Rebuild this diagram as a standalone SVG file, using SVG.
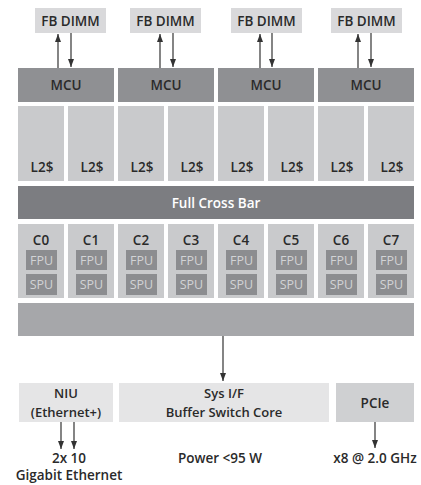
<svg xmlns="http://www.w3.org/2000/svg" width="421" height="485" viewBox="0 0 421 485">
<defs>
<marker id="ah" viewBox="0 0 8 6" refX="8" refY="3" markerWidth="8" markerHeight="6" orient="auto" markerUnits="userSpaceOnUse">
<path d="M0,0 L8,3 L0,6 z" fill="#333"/>
</marker>
<style>
text{font-family:"Open Sans","Noto Sans","DejaVu Sans",sans-serif;text-anchor:middle;}
.b{font-weight:600;fill:#2a2a2a;font-size:13.5px;}
.s{font-size:13px;}
.dimm{fill:#d9d9db;}
.mcu{fill:#8f9093;}
.l2{fill:#c9cacc;}
.core{fill:#c9cacc;}
.unit{fill:#8c8d90;}
.ut{font-size:12.5px;fill:#d2d3d5;font-weight:400;}
.xbar{fill:#7c7d81;}
.bus{fill:#a6a7aa;}
.light{fill:#e5e5e6;}
.pcie{fill:#cfd0d2;}
.w{fill:#fff;font-weight:600;font-size:13.5px;}
.ln{stroke:#333;stroke-width:1.2;fill:none;}
</style>
</defs>
<rect width="421" height="485" fill="#fff"/>
<g id="dimm0"><rect class="dimm" x="35" y="8" width="71" height="25"/><text class="b" x="70.5" y="26">FB DIMM</text></g>
<g id="dimm1"><rect class="dimm" x="130" y="8" width="71" height="25"/><text class="b" x="165.5" y="26">FB DIMM</text></g>
<g id="dimm2"><rect class="dimm" x="231" y="8" width="71" height="25"/><text class="b" x="266.5" y="26">FB DIMM</text></g>
<g id="dimm3"><rect class="dimm" x="331" y="8" width="71" height="25"/><text class="b" x="366.5" y="26">FB DIMM</text></g>
<g id="mcu0"><rect class="mcu" x="18" y="68" width="96" height="34"/><text class="b" x="66" y="90">MCU</text></g>
<g id="mcu1"><rect class="mcu" x="118" y="68" width="96" height="34"/><text class="b" x="166" y="90">MCU</text></g>
<g id="mcu2"><rect class="mcu" x="218" y="68" width="96" height="34"/><text class="b" x="266" y="90">MCU</text></g>
<g id="mcu3"><rect class="mcu" x="318" y="68" width="96" height="34"/><text class="b" x="366" y="90">MCU</text></g>
<g id="l2_0"><rect class="l2" x="18" y="106" width="46" height="75"/><text class="b" x="42" y="172">L2$</text></g>
<g id="l2_1"><rect class="l2" x="68" y="106" width="46" height="75"/><text class="b" x="92" y="172">L2$</text></g>
<g id="l2_2"><rect class="l2" x="118" y="106" width="46" height="75"/><text class="b" x="142" y="172">L2$</text></g>
<g id="l2_3"><rect class="l2" x="168" y="106" width="46" height="75"/><text class="b" x="192" y="172">L2$</text></g>
<g id="l2_4"><rect class="l2" x="218" y="106" width="46" height="75"/><text class="b" x="242" y="172">L2$</text></g>
<g id="l2_5"><rect class="l2" x="268" y="106" width="46" height="75"/><text class="b" x="292" y="172">L2$</text></g>
<g id="l2_6"><rect class="l2" x="318" y="106" width="46" height="75"/><text class="b" x="342" y="172">L2$</text></g>
<g id="l2_7"><rect class="l2" x="368" y="106" width="46" height="75"/><text class="b" x="392" y="172">L2$</text></g>
<g id="crossbar"><rect class="xbar" x="18" y="186" width="396" height="33"/><text class="w" x="216" y="208">Full Cross Bar</text></g>
<g id="c0"><rect class="core" x="18" y="224" width="46" height="74"/><text class="b" x="41" y="245">C0</text><rect class="unit" x="26" y="250" width="31" height="20"/><text class="ut" x="41.5" y="265">FPU</text><rect class="unit" x="26" y="274" width="31" height="21"/><text class="ut" x="41.5" y="289">SPU</text></g>
<g id="c1"><rect class="core" x="68" y="224" width="46" height="74"/><text class="b" x="91" y="245">C1</text><rect class="unit" x="76" y="250" width="31" height="20"/><text class="ut" x="91.5" y="265">FPU</text><rect class="unit" x="76" y="274" width="31" height="21"/><text class="ut" x="91.5" y="289">SPU</text></g>
<g id="c2"><rect class="core" x="118" y="224" width="46" height="74"/><text class="b" x="141" y="245">C2</text><rect class="unit" x="126" y="250" width="31" height="20"/><text class="ut" x="141.5" y="265">FPU</text><rect class="unit" x="126" y="274" width="31" height="21"/><text class="ut" x="141.5" y="289">SPU</text></g>
<g id="c3"><rect class="core" x="168" y="224" width="46" height="74"/><text class="b" x="191" y="245">C3</text><rect class="unit" x="176" y="250" width="31" height="20"/><text class="ut" x="191.5" y="265">FPU</text><rect class="unit" x="176" y="274" width="31" height="21"/><text class="ut" x="191.5" y="289">SPU</text></g>
<g id="c4"><rect class="core" x="218" y="224" width="46" height="74"/><text class="b" x="241" y="245">C4</text><rect class="unit" x="226" y="250" width="31" height="20"/><text class="ut" x="241.5" y="265">FPU</text><rect class="unit" x="226" y="274" width="31" height="21"/><text class="ut" x="241.5" y="289">SPU</text></g>
<g id="c5"><rect class="core" x="268" y="224" width="46" height="74"/><text class="b" x="291" y="245">C5</text><rect class="unit" x="276" y="250" width="31" height="20"/><text class="ut" x="291.5" y="265">FPU</text><rect class="unit" x="276" y="274" width="31" height="21"/><text class="ut" x="291.5" y="289">SPU</text></g>
<g id="c6"><rect class="core" x="318" y="224" width="46" height="74"/><text class="b" x="341" y="245">C6</text><rect class="unit" x="326" y="250" width="31" height="20"/><text class="ut" x="341.5" y="265">FPU</text><rect class="unit" x="326" y="274" width="31" height="21"/><text class="ut" x="341.5" y="289">SPU</text></g>
<g id="c7"><rect class="core" x="368" y="224" width="46" height="74"/><text class="b" x="391" y="245">C7</text><rect class="unit" x="376" y="250" width="31" height="20"/><text class="ut" x="391.5" y="265">FPU</text><rect class="unit" x="376" y="274" width="31" height="21"/><text class="ut" x="391.5" y="289">SPU</text></g>
<g id="bus"><rect class="bus" x="18" y="303" width="396" height="33"/></g>
<g id="niu"><rect class="light" x="19" y="383" width="94" height="39"/><text class="b s" x="66" y="398">NIU</text><text class="b s" x="66" y="417">(Ethernet+)</text></g>
<g id="sysif"><rect class="light" x="119" y="383" width="210" height="39"/><text class="b s" x="224" y="398">Sys I/F</text><text class="b s" x="224" y="416.5">Buffer Switch Core</text></g>
<g id="pcie"><rect class="pcie" x="336" y="383" width="78" height="39"/><text class="b" x="375" y="408">PCIe</text></g>
<g id="labels">
<text class="b" x="69" y="463">2x 10</text>
<text class="b" x="69" y="480">Gigabit Ethernet</text>
<text class="b" x="220" y="463">Power &lt;95 W</text>
<text class="b" x="375" y="463">x8 @ 2.0 GHz</text>
</g>
<g id="connectors">
<line class="ln" x1="58" y1="68" x2="58" y2="34" marker-end="url(#ah)"/>
<line class="ln" x1="71" y1="33" x2="71" y2="67" marker-end="url(#ah)"/>
<line class="ln" x1="160" y1="68" x2="160" y2="34" marker-end="url(#ah)"/>
<line class="ln" x1="173" y1="33" x2="173" y2="67" marker-end="url(#ah)"/>
<line class="ln" x1="260" y1="68" x2="260" y2="34" marker-end="url(#ah)"/>
<line class="ln" x1="272" y1="33" x2="272" y2="67" marker-end="url(#ah)"/>
<line class="ln" x1="358" y1="68" x2="358" y2="34" marker-end="url(#ah)"/>
<line class="ln" x1="371" y1="33" x2="371" y2="67" marker-end="url(#ah)"/>
<line class="ln" x1="223" y1="336" x2="223" y2="381" marker-end="url(#ah)"/>
<line class="ln" x1="61" y1="422" x2="61" y2="449" marker-end="url(#ah)"/>
<line class="ln" x1="74" y1="422" x2="74" y2="449" marker-end="url(#ah)"/>
<line class="ln" x1="375" y1="422" x2="375" y2="448" marker-end="url(#ah)"/>
</g>
</svg>
